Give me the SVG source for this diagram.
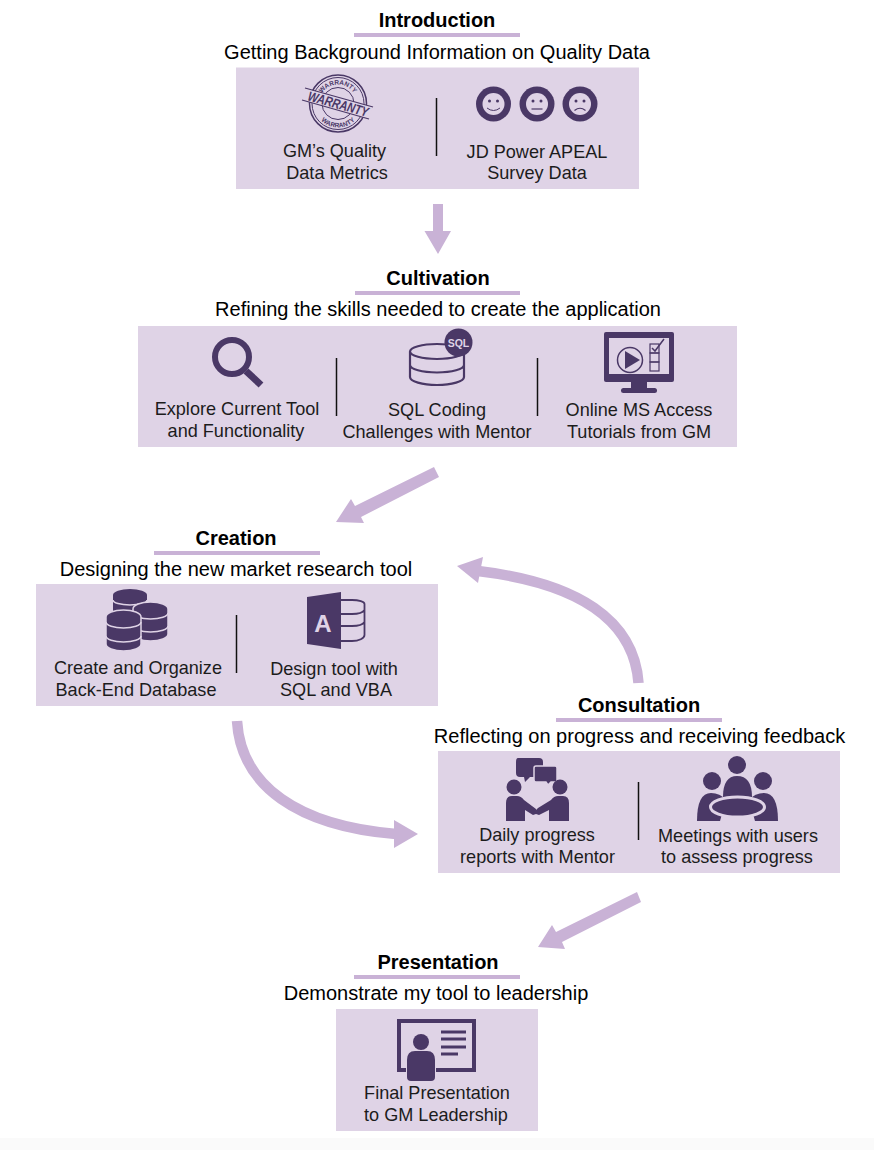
<svg xmlns="http://www.w3.org/2000/svg" width="874" height="1150" viewBox="0 0 874 1150">
<style>
text{font-family:"Liberation Sans",Arial,sans-serif;text-anchor:middle;fill:#000}
.t{font-size:20px;font-weight:bold}
.s{font-size:20px}
.l{font-size:18.100px;fill:#1c1c1c}
.box{fill:#dfd3e6}
.ul{fill:#c9b2d6}
.div{stroke:#111;stroke-width:1.5}
.d{fill:#4a3866}
.o{fill:none;stroke:#4a3866}
.lt{fill:#dfd3e6}
.ln{fill:none;stroke:#dfd3e6}
.arr{fill:#c9b2d6}
.cv{fill:none;stroke:#c9b2d6;stroke-width:10.5}
</style>
<defs>
<path id="arcT" d="M319 103.500A19 19 0 0 1 357 103.500"/>
<path id="arcB" d="M314 103.500A24 24 0 0 0 362 103.500"/>
</defs>
<rect width="874" height="1150" fill="#fff"/>
<rect y="1138" width="874" height="12" fill="#fafafa"/>

<g id="connectors">
<polygon class="arr" points="433,204 443,204 443,231 451,231 438,254 424.500,231 433,231"/>
<polygon class="arr" points="434,467 439,477 361,517 364,523 336,522 351,499 355,506"/>
<path class="cv" d="M237 721C241 786 298 826 396 834"/>
<polygon class="arr" points="394,820 418,834 394,848"/>
<path class="cv" d="M638.500 683C634 620 578 583 478 571"/>
<polygon class="arr" points="483,557 457,566 478,583"/>
<polygon class="arr" points="637,892 641,902 562,942 565,949 538,947 552,925 556,932"/>
</g>

<g id="introduction">
<text class="t" x="437" y="27">Introduction</text>
<rect class="ul" x="354" y="33" width="166" height="4"/>
<text class="s" x="437" y="59">Getting Background Information on Quality Data</text>
<rect class="box" x="236" y="67.500" width="403" height="121.500"/>
<line class="div" x1="436.500" y1="98" x2="436.500" y2="156"/>
<g id="icon-warranty">
<circle class="o" cx="338" cy="103.500" r="28.500" stroke-width="1.500"/>
<circle class="o" cx="338" cy="103.500" r="26" stroke-width="1"/>
<circle class="o" cx="338" cy="103.500" r="16" stroke-width="1"/>
<text style="font-size:6.500px;font-weight:bold;fill:#4a3866"><textPath href="#arcT" startOffset="50%">WARRANTY</textPath></text>
<text style="font-size:6.500px;font-weight:bold;fill:#4a3866"><textPath href="#arcB" startOffset="50%">WARRANTY</textPath></text>
<polygon class="lt" points="304,88 373,107 369,119 302,100"/>
<line class="o" x1="305" y1="88" x2="373" y2="107" stroke-width="1.200"/>
<line class="o" x1="302" y1="100" x2="369" y2="119" stroke-width="1.200"/>
<text transform="translate(337 108.500) rotate(15.500) scale(.8 1)" style="font-size:13.500px;font-weight:bold;font-style:italic;fill:#4a3866">WARRANTY</text>
</g>
<g id="icon-faces">
<circle class="d" cx="493.500" cy="104" r="17.500"/><circle class="lt" cx="493.500" cy="104" r="11"/>
<circle class="d" cx="489.500" cy="101" r="1.500"/><circle class="d" cx="497.500" cy="101" r="1.500"/>
<path class="o" d="M487 108Q493.500 113 500 108" stroke-width="1"/>
<circle class="d" cx="537" cy="104" r="17.500"/><circle class="lt" cx="537" cy="104" r="11"/>
<circle class="d" cx="533" cy="101" r="1.500"/><circle class="d" cx="541" cy="101" r="1.500"/>
<line class="o" x1="531.500" y1="109" x2="542.500" y2="109" stroke-width="1.200"/>
<circle class="d" cx="580" cy="104" r="17.500"/><circle class="lt" cx="580" cy="104" r="11"/>
<circle class="d" cx="576" cy="101" r="1.500"/><circle class="d" cx="584" cy="101" r="1.500"/>
<path class="o" d="M574.500 110.500Q580 106 585.500 110.500" stroke-width="1.200"/>
</g>
<text class="l" x="334.500" y="157">GM’s Quality</text>
<text class="l" x="337" y="179">Data Metrics</text>
<text class="l" x="537" y="158">JD Power APEAL</text>
<text class="l" x="537" y="179">Survey Data</text>
</g>

<g id="cultivation">
<text class="t" x="438" y="285">Cultivation</text>
<rect class="ul" x="355" y="291" width="165" height="4"/>
<text class="s" x="438" y="316">Refining the skills needed to create the application</text>
<rect class="box" x="138" y="326" width="599" height="121"/>
<line class="div" x1="336.500" y1="358" x2="336.500" y2="416"/>
<line class="div" x1="537.500" y1="358" x2="537.500" y2="416"/>
<g id="icon-magnifier">
<circle class="o" cx="232" cy="357" r="17" stroke-width="6"/>
<line class="o" x1="246" y1="371" x2="261" y2="385" stroke-width="7"/>
</g>
<g id="icon-sql">
<path class="o" stroke-width="2.200" d="M410 351.500A27 7.500 0 0 1 464 351.500V377A27 8 0 0 1 410 377ZM410 351.500A27 7.500 0 0 0 464 351.500M410 365A27 7.500 0 0 0 464 365"/>
<circle class="d" cx="458.500" cy="342.500" r="14"/>
<text x="458.500" y="346.500" style="font-size:10.500px;font-weight:bold;fill:#dfd3e6">SQL</text>
</g>
<g id="icon-monitor">
<rect class="d" x="604" y="332" width="70" height="50" rx="2"/>
<rect class="lt" x="609" y="338" width="60" height="36"/>
<rect class="d" x="631" y="380" width="16" height="9"/>
<rect class="d" x="621" y="388" width="36" height="5" rx="2.500"/>
<circle class="o" cx="630" cy="360" r="12.500" stroke-width="1.500"/>
<polygon class="d" points="625,351 625,369 640,360"/>
<rect class="o" x="650" y="344" width="9" height="9" stroke-width="1.200"/>
<rect class="o" x="650" y="353" width="9" height="9" stroke-width="1.200"/>
<rect class="o" x="650" y="362" width="9" height="9" stroke-width="1.200"/>
<path class="o" d="M652 348L655 351L664 339" stroke-width="1.500"/>
</g>
<text class="l" x="237" y="415">Explore Current Tool</text>
<text class="l" x="236" y="437">and Functionality</text>
<text class="l" x="437" y="416">SQL Coding</text>
<text class="l" x="437" y="438">Challenges with Mentor</text>
<text class="l" x="639" y="416">Online MS Access</text>
<text class="l" x="639" y="438">Tutorials from GM</text>
</g>

<g id="creation">
<text class="t" x="236" y="545">Creation</text>
<rect class="ul" x="154" y="551" width="166" height="4"/>
<text class="s" x="236" y="576">Designing the new market research tool</text>
<rect class="box" x="36" y="584" width="402" height="122"/>
<line class="div" x1="236.500" y1="615" x2="236.500" y2="673"/>
<g id="icon-databases">
<path class="d" d="M113 595A17 6 0 0 1 147 595V612H113Z"/>
<path class="ln" d="M113 600A17 5 0 0 0 147 600" stroke-width="1.500"/>
<path class="d" stroke="#dfd3e6" stroke-width="1.500" d="M133 609A17.500 7 0 0 1 168 609V634A17.500 7 0 0 1 133 634Z"/>
<path class="ln" d="M133 613A17.500 6 0 0 0 168 613M133 626A17.500 6 0 0 0 168 626" stroke-width="1.500"/>
<path class="d" stroke="#dfd3e6" stroke-width="1.500" d="M106 617A17.500 7 0 0 1 141 617V644A17.500 7 0 0 1 106 644Z"/>
<path class="ln" d="M106 622A17.500 6 0 0 0 141 622M106 636A17.500 6 0 0 0 141 636" stroke-width="1.500"/>
</g>
<g id="icon-access">
<path class="o" stroke-width="1.800" d="M338 600H352A12.500 4 0 0 1 364.500 604V635A12.500 6 0 0 1 352 641H338M341 614H352Q362 614 364.500 610M341 626H352Q362 626 364.500 622"/>
<polygon class="d" points="307,597 341,592 341,649 307,644"/>
<text x="323" y="632" style="font-size:24px;font-weight:bold;fill:#dfd3e6">A</text>
</g>
<text class="l" x="138" y="674">Create and Organize</text>
<text class="l" x="136" y="696">Back-End Database</text>
<text class="l" x="334" y="675">Design tool with</text>
<text class="l" x="336" y="696">SQL and VBA</text>
</g>

<g id="consultation">
<text class="t" x="639" y="712">Consultation</text>
<rect class="ul" x="556" y="718" width="166" height="4"/>
<text class="s" x="639.500" y="743">Reflecting on progress and receiving feedback</text>
<rect class="box" x="438" y="751" width="402" height="122"/>
<line class="div" x1="638.500" y1="782" x2="638.500" y2="840"/>
<g id="icon-handshake">
<path class="d" d="M518 758H539Q543 758 543 762V773Q543 777 539 777H530L525 782L524 777H520Q516 777 516 773V762Q516 758 518 758Z"/>
<path class="d" stroke="#dfd3e6" stroke-width="1.500" d="M536 766H555Q557 766 557 768V780Q557 782 555 782H551L548 785L546 782H536Q534 782 534 780V768Q534 766 536 766Z"/>
<circle class="d" cx="514" cy="787" r="7.500"/>
<circle class="d" cx="560" cy="787" r="7.500"/>
<path class="d" d="M506 821V803Q506 796 512 796H517Q521 796 524 800L536 809V814L533 815L525 810V821Z"/>
<path class="d" d="M569 821V803Q569 796 563 796H558Q554 796 551 800L538 808L536 810V814L539 815L549 810V821Z"/>
</g>
<g id="icon-meeting">
<circle class="d" cx="737" cy="765" r="9"/>
<circle class="d" cx="712" cy="781" r="9"/>
<circle class="d" cx="763" cy="781" r="9"/>
<path class="d" d="M723 797Q723 776 737 776Q752 776 752 797V806H723Z"/>
<path class="d" d="M697 821Q697 793 711 793Q720 793 726 800L720 821Z"/>
<path class="d" d="M778 821Q778 793 764 793Q755 793 749 800L755 821Z"/>
<ellipse class="d" cx="737.500" cy="807" rx="27" ry="10" stroke="#dfd3e6" stroke-width="3"/>
</g>
<text class="l" x="537" y="841">Daily progress</text>
<text class="l" x="537.500" y="863">reports with Mentor</text>
<text class="l" x="738" y="842">Meetings with users</text>
<text class="l" x="737" y="863">to assess progress</text>
</g>

<g id="presentation">
<text class="t" x="438" y="969">Presentation</text>
<rect class="ul" x="354" y="975" width="166" height="4"/>
<text class="s" x="436" y="1000">Demonstrate my tool to leadership</text>
<rect class="box" x="336" y="1009" width="202" height="122"/>
<g id="icon-presenter">
<path class="o" stroke-width="4" d="M406 1070H399V1021H474V1070H436"/>
<circle class="d" cx="421" cy="1042" r="8"/>
<path class="d" d="M407 1060Q407 1051 415 1051H427Q435 1051 435 1060V1077Q435 1081 431 1081H411Q407 1081 407 1077Z"/>
<path class="o" stroke-width="3" d="M441 1032H466M441 1039H466M441 1047H466M441 1054H458"/>
</g>
<text class="l" x="437" y="1099">Final Presentation</text>
<text class="l" x="436" y="1121">to GM Leadership</text>
</g>
</svg>
